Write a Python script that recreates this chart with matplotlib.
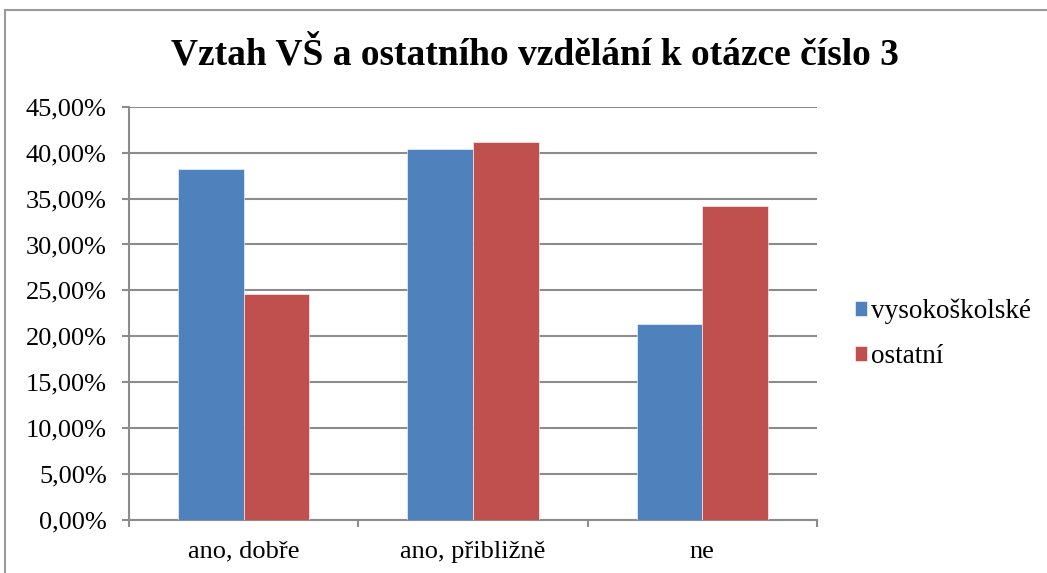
import matplotlib
matplotlib.use("Agg")
import matplotlib.pyplot as plt
import numpy as np
from matplotlib.lines import Line2D
from matplotlib.ticker import FuncFormatter, MultipleLocator

categories = ["ano, dobře", "ano, přibližně", "ne"]
series_names = ["vysokoškolské", "ostatní"]
vs_values = [38.22, 40.40, 21.31]
other_values = [24.58, 41.19, 34.19]
colors = ["#4f81bd", "#c0504d"]

plt.rcParams["font.family"] = ["Liberation Serif", "DejaVu Serif"]

W, H = 1047, 573
fig = plt.figure(figsize=(W / 100, H / 100), dpi=100)

# chart frame (left and top edge only)
fig.add_artist(Line2D([5 / W, 5 / W], [0, 1 - 10 / H], transform=fig.transFigure,
                      color="#9a9a9a", lw=1.5))
fig.add_artist(Line2D([5 / W, 1], [1 - 10 / H, 1 - 10 / H], transform=fig.transFigure,
                      color="#9a9a9a", lw=1.5))

ax = fig.add_axes([129 / W, 1 - 520 / H, (817 - 129) / W, (520 - 106.7) / H])

x = np.arange(len(categories))
width = 1 / 3.5
ax.bar(x - width / 2, vs_values, width, color=colors[0], label=series_names[0],
       edgecolor="white", linewidth=0.4, zorder=3)
ax.bar(x + width / 2, other_values, width, color=colors[1], label=series_names[1],
       edgecolor="white", linewidth=0.4, zorder=3)

ax.set_xlim(-0.5, len(categories) - 0.5)
ax.set_ylim(0, 45)
ax.yaxis.set_major_locator(MultipleLocator(5))
ax.yaxis.set_major_formatter(FuncFormatter(lambda v, _: f"{v:.2f}".replace(".", ",") + "%"))
ax.grid(axis="y", color="#8c8c8c", linewidth=1.5, zorder=0)

ax.set_xticks(x)
ax.set_xticklabels(categories)
ax.set_xticks(np.arange(len(categories) + 1) - 0.5, minor=True)
ax.tick_params(axis="x", which="major", length=0, pad=15, labelsize=19)
ax.tick_params(axis="x", which="minor", length=5, width=1.5, color="#8c8c8c")
ax.tick_params(axis="y", length=5, width=1.5, color="#8c8c8c", pad=11, labelsize=19)

for side in ["top", "right"]:
    ax.spines[side].set_visible(False)
for side in ["left", "bottom"]:
    ax.spines[side].set_color("#8c8c8c")
    ax.spines[side].set_linewidth(1.5)

fig.text(535 / W, 1 - 55 / H, "Vztah VŠ a ostatního vzdělání k otázce číslo 3",
         ha="center", va="center", fontsize=27, fontweight="bold")

ax.legend(loc="center left", bbox_to_anchor=(1.02, 0.45), frameon=False,
          fontsize=19.5, handlelength=0.45, handleheight=0.45, handletextpad=0.15,
          labelspacing=0.75)

fig.savefig("out.png", dpi=100)
